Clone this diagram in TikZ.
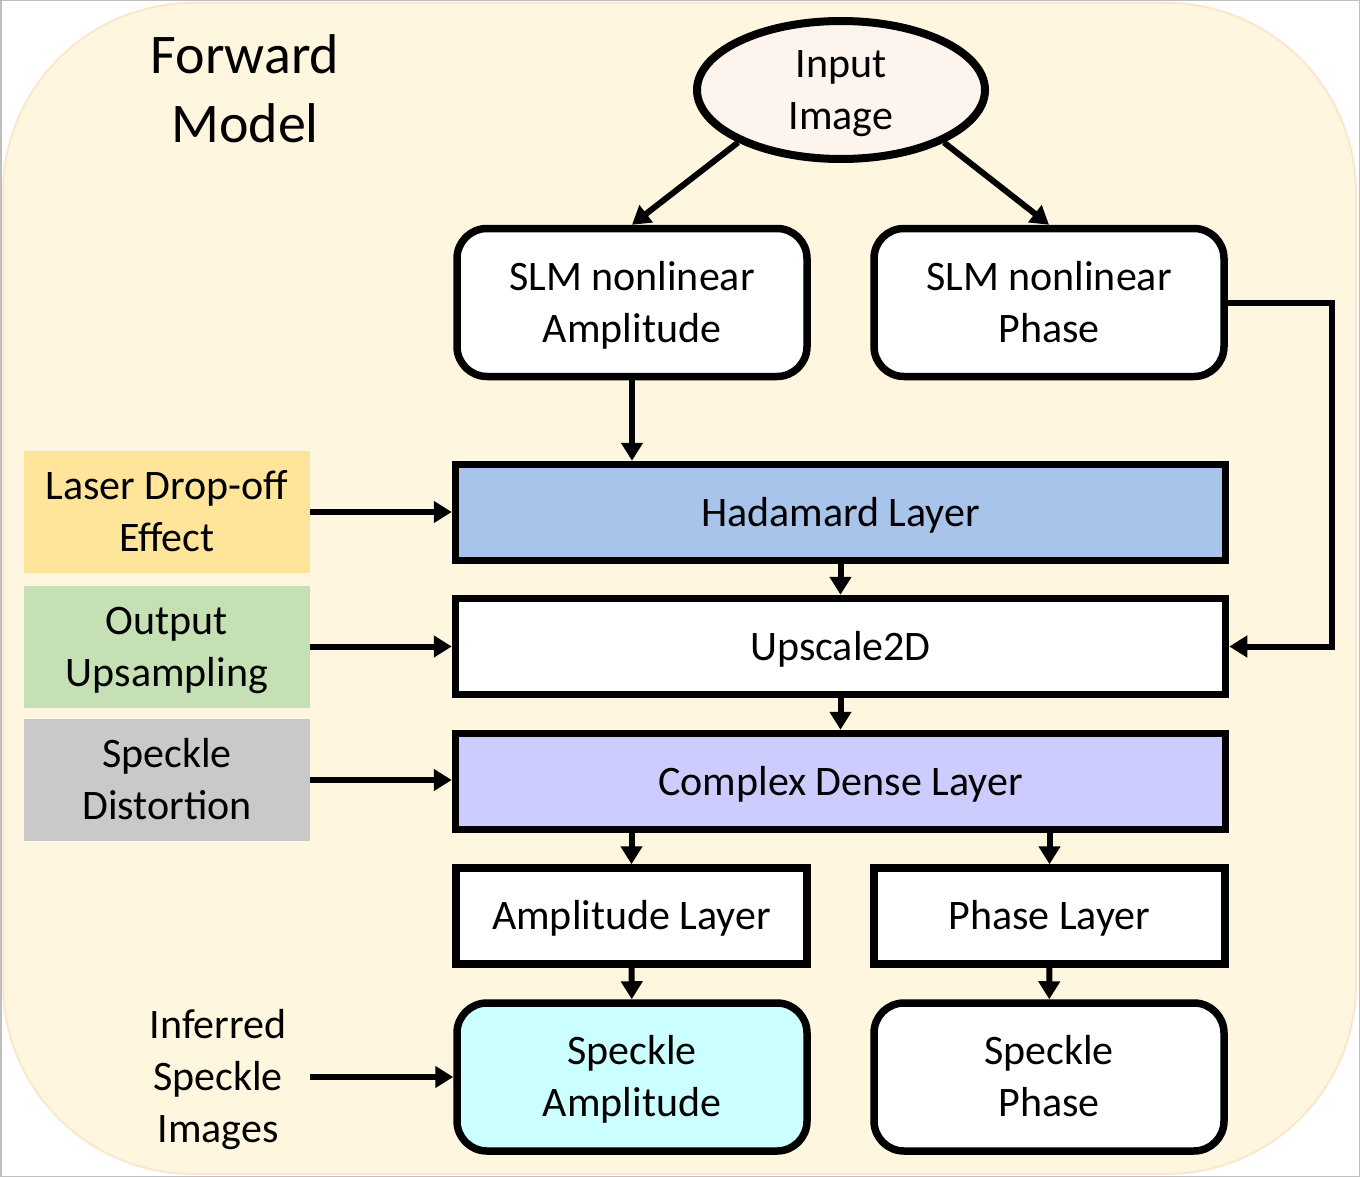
\documentclass[tikz,border=0pt]{standalone}
\usepackage{fontspec}
\setmainfont{Carlito}
\usetikzlibrary{shapes.geometric,arrows.meta}
\definecolor{bgfill}{HTML}{FFF6E0}
\definecolor{bgedge}{HTML}{FCE6CC}
\definecolor{ellfill}{HTML}{FDF4EE}
\definecolor{hadfill}{HTML}{A9C4EB}
\definecolor{densefill}{HTML}{CCCCFF}
\definecolor{ampfill}{HTML}{CCFFFF}
\definecolor{laserfill}{HTML}{FFE599}
\definecolor{upfill}{HTML}{C5E0B4}
\definecolor{specfill}{HTML}{C9C9C9}
\definecolor{framegray}{HTML}{BFBFBF}
\begin{document}
\begin{tikzpicture}[x=0.5pt,y=-0.5pt,
  txt/.style={font=\fontsize{21}{26}\selectfont, align=center, inner sep=0pt, text height=16.75pt, text depth=3.25pt},
  two/.style={text height=42.75pt},
  three/.style={text height=68.75pt},
  rbox/.style={txt, two, draw, line width=3.75pt, rounded corners=15pt, minimum width=175pt, minimum height=74pt, fill=white},
  sbox/.style={txt, draw, line width=3.75pt, minimum height=48pt},
  wide/.style={sbox, minimum width=385pt},
  half/.style={sbox, minimum width=175.5pt, fill=white},
  side/.style={txt, two, minimum width=143pt, minimum height=61pt},
  arr/.style={line width=3pt, -{Triangle[length=9pt,width=10.5pt]}}
]
\useasboundingbox (0,0) rectangle (1360,1177);
\fill[white] (0,0) rectangle (1360,1177);
\draw[framegray, line width=0.75pt] (0.75,0.75) rectangle (1359.25,1176.25);
\draw[fill=bgfill, draw=bgedge, line width=1pt, rounded corners=95pt] (3,3) rectangle (1356,1174);

\node[txt, font=\fontsize{28}{34.5}\selectfont, text height=53.5pt, text depth=1pt] (title) at (245,89.5) {Forward\\Model};

\node[txt, two, ellipse, draw, line width=4pt, fill=ellfill, minimum width=144pt, minimum height=69pt] (ell) at (841,90) {Input\\Image};

\node[rbox] (samp) at (632,302.5) {SLM nonlinear\\Amplitude};
\node[rbox] (sph) at (1049,302.5) {SLM nonlinear\\Phase};

\node[wide, fill=hadfill] (had) at (840.5,512.5) {Hadamard Layer};
\node[wide, fill=white] (up) at (840.5,646.5) {Upscale2D};
\node[wide, fill=densefill] (dense) at (840.5,781.5) {Complex Dense Layer};

\node[half] (alay) at (631.5,916) {Amplitude Layer};
\node[half] (play) at (1049.5,916) {Phase Layer};

\node[rbox, fill=ampfill] (samp2) at (632,1077) {Speckle\\Amplitude};
\node[rbox] (sph2) at (1049,1077) {Speckle\\Phase};

\node[side, fill=laserfill] (laser) at (167,512) {Laser Drop-off\\Effect};
\node[side, fill=upfill] (ups) at (167,646.5) {Output\\Upsampling};
\node[side, fill=specfill] (spd) at (167,780) {Speckle\\Distortion};
\node[txt, three] (inf) at (218,1077) {Inferred\\Speckle\\Images};
\coordinate (infe) at (310,1077);

\draw[arr] (ell.207) -- (samp.north);
\draw[arr] (ell.333) -- (sph.north);
\draw[arr] (samp) -- (had.north -| samp);
\draw[arr] (had) -- (up);
\draw[arr] (up) -- (dense);
\draw[arr] (dense.south -| alay) -- (alay);
\draw[arr] (dense.south -| play) -- (play);
\draw[arr] (alay) -- (samp2);
\draw[arr] (play) -- (sph2);
\draw[arr] (sph.east) -- ++(104,0) |- (up.east);
\draw[arr] (laser.east) -- (had.west |- laser);
\draw[arr] (ups.east) -- (up.west |- ups);
\draw[arr] (spd.east) -- (dense.west |- spd);
\draw[arr] (infe) -- (samp2.west |- infe);
\end{tikzpicture}
\end{document}
